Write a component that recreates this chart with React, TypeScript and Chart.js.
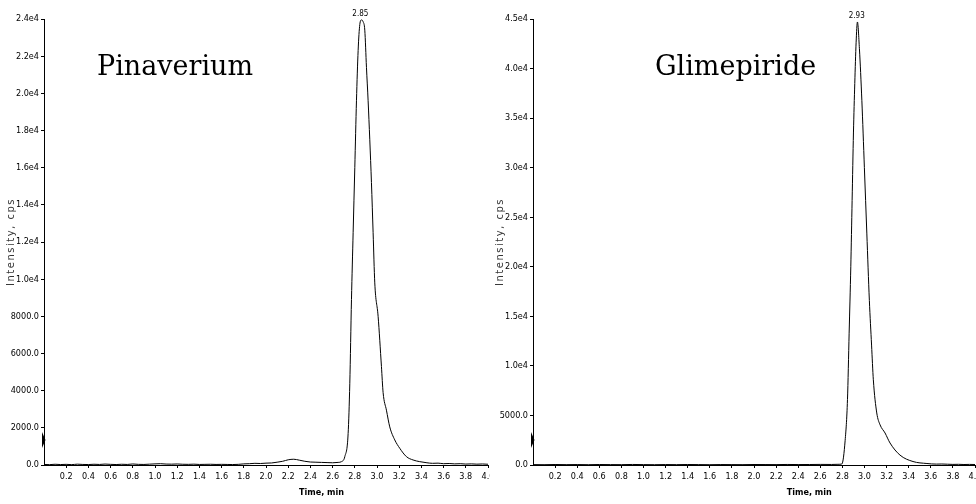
import React, { useEffect, useRef } from 'react';
import { Chart, registerables } from 'chart.js';

Chart.register(...registerables);

// ---------- data ----------
const pinaTime = [
  0.0, 0.05, 0.1, 0.15, 0.2, 0.25, 0.3, 0.35, 0.4, 0.45, 0.5, 0.55, 0.6, 0.65, 0.7, 0.75, 0.8, 0.85, 0.9, 0.95,
  1.0, 1.05, 1.1, 1.15, 1.2, 1.25, 1.3, 1.35, 1.4, 1.45, 1.5, 1.55, 1.6, 1.65, 1.7, 1.75, 1.8, 1.85, 1.9, 1.95,
  2.0, 2.05, 2.1, 2.15, 2.2, 2.25, 2.3, 2.35, 2.4, 2.45, 2.5, 2.55, 2.6, 2.65, 2.68,
  2.71, 2.74, 2.755, 2.77, 2.785, 2.8, 2.815, 2.83, 2.845, 2.86, 2.875, 2.89, 2.905, 2.92, 2.935, 2.95, 2.965, 2.98,
  3.01, 3.04, 3.055, 3.085, 3.115, 3.16, 3.205, 3.265, 3.325, 3.385,
  3.45, 3.5, 3.55, 3.6, 3.65, 3.7, 3.75, 3.8, 3.85, 3.9, 3.95, 4.0,
];
const pinaIntensity = [
  30, 20, 40, 25, 35, 20, 45, 30, 25, 40, 30, 50, 35, 25, 40, 30, 55, 35, 30, 45,
  60, 70, 50, 45, 55, 40, 35, 45, 30, 35, 40, 30, 35, 30, 25, 35, 60, 70, 90, 80,
  100, 110, 150, 200, 280, 310, 260, 200, 160, 150, 140, 130, 120, 140, 180,
  450, 1700, 4400, 8900, 12500, 16000, 19600, 22300, 23700, 23950, 23850, 23400, 21400, 19600, 17500, 15200, 12500, 9800,
  8000, 5300, 3900, 2950, 2050, 1350, 900, 450, 270, 180,
  120, 90, 100, 70, 80, 60, 70, 50, 60, 45, 55, 40,
];

const glimTime = [
  0.0, 0.1, 0.2, 0.3, 0.4, 0.5, 0.6, 0.7, 0.8, 0.9, 1.0, 1.1, 1.2, 1.3, 1.4, 1.5, 1.6, 1.7, 1.8, 1.9,
  2.0, 2.1, 2.2, 2.3, 2.4, 2.5, 2.6, 2.7, 2.76,
  2.795, 2.825, 2.846, 2.861, 2.876, 2.888, 2.9, 2.912, 2.924, 2.936, 2.954, 2.976, 2.999, 3.021, 3.044,
  3.064, 3.08, 3.111, 3.141, 3.186, 3.231, 3.321, 3.439, 3.565,
  3.65, 3.7, 3.75, 3.8, 3.85, 3.9, 3.95, 4.0,
];
const glimIntensity = [
  40, 30, 50, 35, 45, 30, 50, 40, 35, 55, 40, 30, 45, 35, 50, 40, 30, 45, 40, 35,
  50, 45, 40, 55, 45, 50, 60, 55, 70,
  100, 2500, 6600, 13300, 20000, 26700, 33500, 38500, 42600, 44700, 42000, 36800, 30000, 23400, 16600,
  12100, 8600, 5250, 4050, 3230, 2220, 1000, 350, 150,
  90, 100, 80, 60, 70, 50, 60, 50,
];

const xTickValues = [0.2, 0.4, 0.6, 0.8, 1.0, 1.2, 1.4, 1.6, 1.8, 2.0, 2.2, 2.4, 2.6, 2.8, 3.0, 3.2, 3.4, 3.6, 3.8, 4.0];
const pinaYTicks = [0, 2000, 4000, 6000, 8000, 10000, 12000, 14000, 16000, 18000, 20000, 22000, 24000];
const glimYTicks = [0, 5000, 10000, 15000, 20000, 25000, 30000, 35000, 40000, 45000];

const compoundNames = ['Pinaverium', 'Glimepiride'];
const peakTimes = [2.85, 2.93];
const peakLabels = ['2.85', '2.93'];
const peakHeights = [23950, 44700];

// ---------- helpers ----------
const TICK_FONT = "'Liberation Sans Narrow', 'DejaVu Sans Condensed', 'Liberation Sans', sans-serif";

function fmtY(v: number): string {
  if (v === 0) return '0.0';
  if (v < 10000) return v.toFixed(1);
  return (v / 10000).toFixed(1) + 'e4';
}

type PanelProps = {
  times: number[];
  values: number[];
  yTicks: number[];
  yMax: number;
  name: string;
  nameOffset: number;
  peakTime: number;
  peakLabel: string;
  peakHeight: number;
  canvasWidth: number;
  plotLeft: number;
  plotRight: number;
};

function Panel(p: PanelProps) {
  const ref = useRef<HTMLCanvasElement | null>(null);
  useEffect(() => {
    if (!ref.current) return;
    const overlay = {
      id: 'overlay',
      afterDraw(chart: any) {
        const ctx = chart.ctx;
        const xs = chart.scales.x;
        const ys = chart.scales.y;
        const area = chart.chartArea;
        ctx.save();
        // compound name
        ctx.fillStyle = '#000';
        ctx.font = "27px 'DejaVu Serif', 'Liberation Serif', serif";
        ctx.textAlign = 'left';
        ctx.textBaseline = 'alphabetic';
        ctx.fillText(p.name, area.left + p.nameOffset, 75);
        // peak label
        ctx.font = `8px ${TICK_FONT}`;
        ctx.textAlign = 'center';
        ctx.textBaseline = 'bottom';
        ctx.fillText(p.peakLabel, xs.getPixelForValue(p.peakTime), ys.getPixelForValue(p.peakHeight) - 2);
        // x axis title
        ctx.font = `bold 9px ${TICK_FONT}`;
        ctx.textBaseline = 'middle';
        ctx.fillText('Time, min', xs.getPixelForValue(2.5), 493);
        // y axis title (spaced letters)
        ctx.save();
        ctx.translate(area.left - 33, (area.top + area.bottom) / 2);
        ctx.rotate(-Math.PI / 2);
        ctx.fillStyle = '#333';
        ctx.font = "10px 'DejaVu Sans', sans-serif";
        try { (ctx as any).letterSpacing = '1.5px'; } catch (e) {}
        ctx.textAlign = 'center';
        ctx.textBaseline = 'middle';
        ctx.fillText('Intensity, cps', 0, 0);
        ctx.restore();
        // marker on y axis
        ctx.beginPath();
        ctx.moveTo(area.left - 2, 432);
        ctx.lineTo(area.left + 1.5, 440);
        ctx.lineTo(area.left - 2, 448);
        ctx.closePath();
        ctx.fill();
        ctx.restore();
      },
    };
    const chart = new Chart(ref.current, {
      type: 'line',
      data: {
        datasets: [
          {
            data: p.times.map((t, i) => ({ x: t, y: p.values[i] })),
            borderColor: '#000',
            borderWidth: 1,
            pointRadius: 0,
            fill: false,
            cubicInterpolationMode: 'monotone',
          },
        ],
      },
      options: {
        responsive: false,
        animation: false,
        maintainAspectRatio: false,
        layout: { padding: { left: 0, right: p.canvasWidth - p.plotRight, top: 19, bottom: 0 } },
        plugins: { legend: { display: false }, tooltip: { enabled: false }, title: { display: false } },
        scales: {
          x: {
            type: 'linear',
            min: 0,
            max: 4,
            afterBuildTicks: (s: any) => {
              s.ticks = xTickValues.map((v) => ({ value: v }));
            },
            afterFit: (s: any) => {
              s.height = 39;
            },
            ticks: {
              autoSkip: false,
              maxRotation: 0,
              padding: 3,
              color: '#000',
              font: { family: TICK_FONT, size: 9 },
              callback: (v: any) => Number(v).toFixed(1),
            },
            grid: { drawOnChartArea: false, drawTicks: true, tickLength: 3, color: '#000' },
            border: { display: true, color: '#000', width: 1 },
          },
          y: {
            type: 'linear',
            min: 0,
            max: p.yMax,
            afterBuildTicks: (s: any) => {
              s.ticks = p.yTicks.map((v) => ({ value: v }));
            },
            afterFit: (s: any) => {
              s.width = p.plotLeft;
            },
            ticks: {
              autoSkip: false,
              padding: 2,
              color: '#000',
              font: { family: TICK_FONT, size: 9 },
              callback: (v: any) => fmtY(Number(v)),
            },
            grid: { drawOnChartArea: false, drawTicks: true, tickLength: 3, color: '#000' },
            border: { display: true, color: '#000', width: 1 },
          },
        },
      },
      plugins: [overlay],
    } as any);
    return () => chart.destroy();
  }, []);
  return <canvas ref={ref} width={p.canvasWidth} height={504} style={{ display: 'block' }} />;
}

export default function App() {
  return (
    <div style={{ position: 'fixed', top: 0, left: 0, width: 976, height: 504, background: '#fff', overflow: 'hidden' }}>
      <div style={{ position: 'absolute', left: 0, top: 0, width: 490, height: 504, overflow: 'hidden' }}>
        <Panel
          times={pinaTime}
          values={pinaIntensity}
          yTicks={pinaYTicks}
          yMax={24000}
          name={compoundNames[0]}
          nameOffset={53}
          peakTime={peakTimes[0]}
          peakLabel={peakLabels[0]}
          peakHeight={peakHeights[0]}
          canvasWidth={510}
          plotLeft={44}
          plotRight={488}
        />
      </div>
      <div style={{ position: 'absolute', left: 490, top: 0, width: 486, height: 504, overflow: 'hidden' }}>
        <Panel
          times={glimTime}
          values={glimIntensity}
          yTicks={glimYTicks}
          yMax={45000}
          name={compoundNames[1]}
          nameOffset={122}
          peakTime={peakTimes[1]}
          peakLabel={peakLabels[1]}
          peakHeight={peakHeights[1]}
          canvasWidth={510}
          plotLeft={43}
          plotRight={485}
        />
      </div>
    </div>
  );
}
